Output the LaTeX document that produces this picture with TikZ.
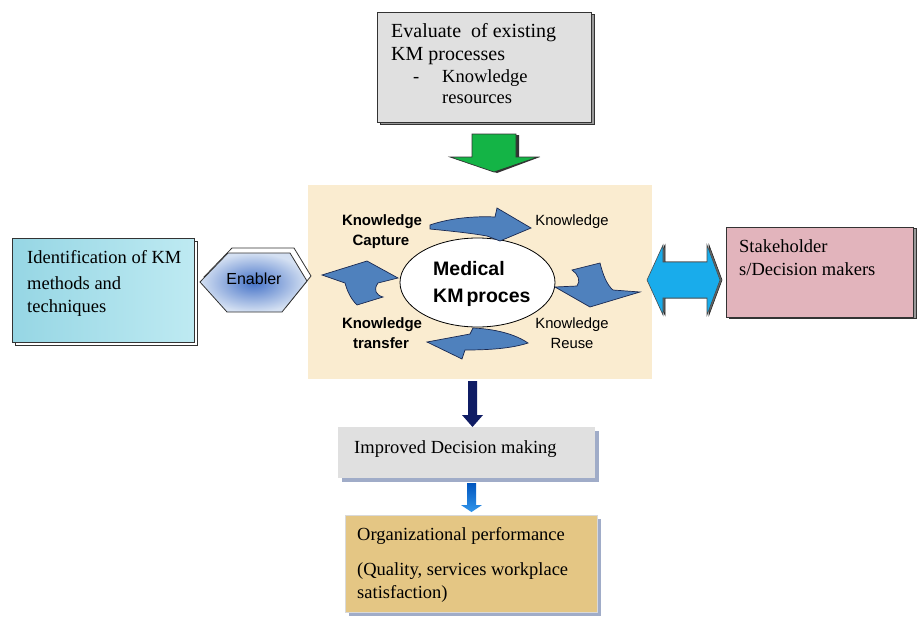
\documentclass[tikz,border=0pt]{standalone}
\usepackage{fontspec}
\setmainfont{Liberation Serif}
\setsansfont{Liberation Sans}
\usetikzlibrary{shapes.geometric}
\definecolor{beige}{RGB}{250,236,208}
\definecolor{kmblue}{RGB}{79,129,189}
\definecolor{kmedge}{RGB}{25,40,80}
\definecolor{marble}{RGB}{224,224,224}
\definecolor{aquaL}{RGB}{150,214,228}
\definecolor{aquaR}{RGB}{190,234,242}
\definecolor{rose}{RGB}{226,180,188}
\definecolor{papyrus}{RGB}{228,198,132}
\definecolor{cyanarrow}{RGB}{25,172,235}
\definecolor{greenarrow}{RGB}{20,180,70}
\definecolor{navy}{RGB}{15,28,100}
\definecolor{blueA}{RGB}{0,85,190}
\definecolor{blueB}{RGB}{50,150,235}
\definecolor{shadowblue}{RGB}{160,172,200}
\definecolor{enablerblue}{RGB}{70,115,200}
\definecolor{enablerpale}{RGB}{212,224,242}
\begin{document}
\begin{tikzpicture}[x=1pt,y=-1pt,
  serif/.style={font=\fontsize{18.5}{22}\selectfont, anchor=base west, inner sep=0pt},
  serifbig/.style={font=\fontsize{20}{24}\selectfont, anchor=base west, inner sep=0pt},
  lab/.style={font=\sffamily\fontsize{14.8}{17}\selectfont, anchor=base, inner sep=0pt},
  labb/.style={font=\sffamily\bfseries\fontsize{15}{17}\selectfont, anchor=base, inner sep=0pt},
  boxx/.style={draw=black!80, line width=0.8pt, inner sep=0pt},
  blockarrow/.style={draw=kmedge, line width=0.7pt, fill=kmblue, line join=miter}]
\useasboundingbox (0,0) rectangle (918,616);
\fill[white] (0,0) rectangle (918,616);

% ---------- top box ----------
\draw[black!80, line width=0.8pt, fill=black!40] (380,14) rectangle (594,124);
\node[boxx, fill=marble, minimum width=214pt, minimum height=110pt] (eval) at (484,67) {};
\node[serifbig] (e1) at (391,37) {Evaluate\ \ of existing};
\node[serifbig] (e2) at (391,60) {KM processes};
\node[serif] (e3) at (413,82) {-};
\node[serif] (e4) at (442,82) {Knowledge};
\node[serif] (e5) at (442,103) {resources};

% ---------- green arrow ----------
\fill[black!80] (475,135) -- (519,135) -- (519,157) -- (540,157) -- (497,173) -- (453,157) -- (475,157) -- cycle;
\draw[draw=black!80, line width=0.7pt, fill=greenarrow, line join=miter]
  (472,134) -- (516,134) -- (516,157) -- (538,157) -- (494,172) -- (450,157) -- (472,157) -- cycle;

% ---------- central panel ----------
\node[fill=beige, minimum width=344pt, minimum height=194pt, inner sep=0pt] (panel) at (480,282) {};
\node[ellipse, draw=black, line width=0.8pt, fill=white, minimum width=155pt, minimum height=89pt, inner sep=0pt] (kmp) at (477.5,282.5) {};
\node[font=\sffamily\bfseries\fontsize{19.5}{23}\selectfont, anchor=base west, inner sep=0pt] (m1) at (433,275) {Medical};
\node[font=\sffamily\bfseries\fontsize{19.5}{23}\selectfont, anchor=base west, inner sep=0pt] (m2) at (433,302) {KM\kern3pt proces};

\node[labb] (c1) at (382,225) {Knowledge};
\node[labb] (c2) at (381,245) {Capture};
\node[lab] (k1) at (572,225) {Knowledge};
\node[lab] (r1) at (572,328) {Knowledge};
\node[lab] (r2) at (572,348) {Reuse};
\node[labb] (t1) at (382,328) {Knowledge};
\node[labb] (t2) at (381,348) {transfer};

% curved block arrows
\draw[blockarrow] (430,225) .. controls (450,218) and (475,216) .. (495,217) -- (497,208) -- (531,228) -- (500,241) -- (487,236) .. controls (470,233) and (450,231) .. (430,229) -- cycle;
\draw[blockarrow] (572,270) -- (600,263) .. controls (603,275) and (607,285) .. (613,290) -- (640,292) -- (590,307) -- (555,287) -- (577,286) .. controls (581,281) and (578,274) .. (572,270) -- cycle;
\draw[blockarrow] (528,343) .. controls (515,334) and (495,329) .. (473,328) -- (470,334) -- (427,342) -- (462,359) -- (465,350) .. controls (485,350) and (510,349) .. (528,343) -- cycle;
\draw[blockarrow] (322,275) -- (367,261) -- (398,278) -- (378,283) .. controls (373,290) and (376,295) .. (383,297) -- (357,305) .. controls (350,298) and (347,290) .. (345,283) -- cycle;

% ---------- left box ----------
\draw[black!80, line width=0.8pt, fill=white] (15,241) rectangle (197,345);
\shade[left color=aquaL, right color=aquaR] (12,238) rectangle (194,342);
\draw[black!80, line width=0.8pt] (12,238) rectangle (194,342);
\node[serif] (i1) at (27,263) {Identification of KM};
\node[serif] (i2) at (27,289) {methods and};
\node[serif] (i3) at (27,312) {techniques};

% ---------- enabler ----------
\draw[black!80, line width=0.8pt, fill=white, line join=miter]
  (204,277) -- (232,248) -- (294,248) -- (311,276) -- (286,307) -- (231,307) -- cycle;
\shade[inner color=enablerblue, outer color=enablerpale]
  (200,282) -- (228,253) -- (290,253) -- (307,281) -- (282,312) -- (227,312) -- cycle;
\draw[black!80, line width=0.8pt, line join=miter]
  (200,282) -- (228,253) -- (290,253) -- (307,281) -- (282,312) -- (227,312) -- cycle;
\node[font=\sffamily\fontsize{16}{19}\selectfont, inner sep=0pt] (enab) at (254,279) {Enabler};

% ---------- double arrow ----------
\draw[black!85, line width=0.6pt, fill=black!60, line join=miter] (649,280) -- (665,245) -- (665,262) -- (709,262) -- (709,245) -- (722,280) -- (709,315) -- (709,298) -- (665,298) -- (665,315) -- cycle;
\draw[draw=black!70, line width=0.6pt, fill=cyanarrow, line join=miter]
  (647,280) -- (663,245) -- (663,262) -- (707,262) -- (707,245) -- (720,280) -- (707,315) -- (707,298) -- (663,298) -- (663,315) -- cycle;

% ---------- stakeholder ----------
\draw[black!80, line width=0.8pt, fill=black!40] (729,228) rectangle (916,318);
\node[boxx, fill=rose, minimum width=187pt, minimum height=90pt] (stake) at (819.5,272) {};
\node[serif] (s1) at (739,252) {Stakeholder};
\node[serif] (s2) at (739,275) {s/Decision makers};

% ---------- navy arrow ----------
\fill[navy] (468,381) -- (477,381) -- (477,415) -- (483,415) -- (472.5,427) -- (462,415) -- (468,415) -- cycle;

% ---------- improved decision ----------
\fill[shadowblue] (342,431) rectangle (599,482);
\node[fill=marble, minimum width=257pt, minimum height=51pt, inner sep=0pt] (imp) at (466.5,452.5) {};
\node[serif] (im1) at (354,453) {Improved Decision making};

% ---------- blue arrow ----------
\shade[top color=blueA, bottom color=blueB] (467,483) -- (476,483) -- (476,505) -- (482,505) -- (471.5,512) -- (461,505) -- (467,505) -- cycle;

% ---------- organizational ----------
\fill[shadowblue] (349,519) rectangle (601,616);
\node[fill=papyrus, draw=black!15, line width=0.5pt, minimum width=252pt, minimum height=97pt, inner sep=0pt] (org) at (471,563.5) {};
\node[serif] (o1) at (357,540) {Organizational performance};
\node[serif] (o2) at (357,575) {(Quality, services workplace};
\node[serif] (o3) at (357,598) {satisfaction)};
\end{tikzpicture}
\end{document}
